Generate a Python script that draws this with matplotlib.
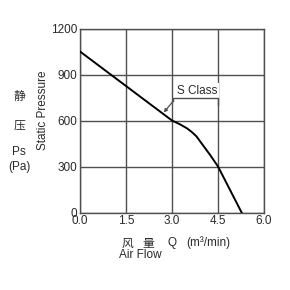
import matplotlib
matplotlib.use("Agg")
import matplotlib.pyplot as plt

# S Class curve
flow = [0.0, 1.5, 3.0, 3.25, 3.48, 3.64, 3.8, 3.96, 4.1, 4.24, 4.5, 4.89, 5.27]
pressure = [1050, 825, 600, 576, 550, 526, 496, 452, 414, 376, 300, 148, 0]

x_ticks = [0.0, 1.5, 3.0, 4.5, 6.0]
x_labels = ["0.0", "1.5", "3.0", "4.5", "6.0"]
y_ticks = [0, 300, 600, 900, 1200]
y_labels = ["0", "300", "600", "900", "1200"]

series_name = "S Class"

FAM = ["Liberation Sans", "Noto Sans CJK SC", "DejaVu Sans"]
CJK = ["Noto Sans CJK SC", "DejaVu Sans"]
TXT = "#2a2a2a"
GRID = "#505050"
FS = 8.5

plt.rcParams["font.family"] = FAM

fig = plt.figure(figsize=(2.9, 2.9), dpi=100)
ax = fig.add_axes([0.2759, 0.2672, 0.6345, 0.6345])

ax.set_xlim(0, 6)
ax.set_ylim(0, 1200)
ax.set_xticks(x_ticks)
ax.set_xticklabels(x_labels)
ax.set_yticks(y_ticks)
ax.set_yticklabels(y_labels)
ax.tick_params(length=0, labelsize=FS, colors=TXT, pad=2)
ax.grid(True, color=GRID, linewidth=1.0, zorder=1)
for s in ax.spines.values():
    s.set_color(GRID)
    s.set_linewidth(1.0)

ax.plot(flow, pressure, color="black", linewidth=1.4, zorder=5)

# label with a white box breaking the 4.5 gridline
ax.text(3.82, 793, series_name, fontsize=FS, color=TXT, ha="center", va="center",
        zorder=3, bbox=dict(facecolor="white", edgecolor="none", pad=1.5))
ax.plot([3.04, 3.04, 4.5, 4.5], [727, 750, 750, 700], color=GRID,
        linewidth=1.0, zorder=4)
ax.annotate("", xy=(2.73, 652), xytext=(3.04, 727),
            arrowprops=dict(arrowstyle="-|>", color=GRID, lw=0.9,
                            mutation_scale=5, shrinkA=0, shrinkB=0),
            zorder=4)

fig.text(0.148, 0.62, "Static Pressure", rotation=90, fontsize=FS, color=TXT,
         ha="center", va="center")
fig.text(0.066, 0.667, "静", fontsize=FS, color=TXT, ha="center", va="center",
         family=CJK)
fig.text(0.066, 0.569, "压", fontsize=FS, color=TXT, ha="center", va="center",
         family=CJK)
fig.text(0.066, 0.477, "Ps", fontsize=FS, color=TXT, ha="center", va="center")
fig.text(0.066, 0.425, "(Pa)", fontsize=FS, color=TXT, ha="center", va="center")

fig.text(0.441, 0.162, "风", fontsize=FS, color=TXT, ha="center", va="center",
         family=CJK)
fig.text(0.510, 0.162, "量", fontsize=FS, color=TXT, ha="center", va="center",
         family=CJK)
fig.text(0.593, 0.162, "Q", fontsize=FS, color=TXT, ha="center", va="center")
fig.text(0.717, 0.162, "(m³/min)", fontsize=FS, color=TXT, ha="center",
         va="center")
fig.text(0.483, 0.121, "Air Flow", fontsize=FS, color=TXT, ha="center",
         va="center")

fig.savefig("out.png", dpi=100, facecolor="white")
